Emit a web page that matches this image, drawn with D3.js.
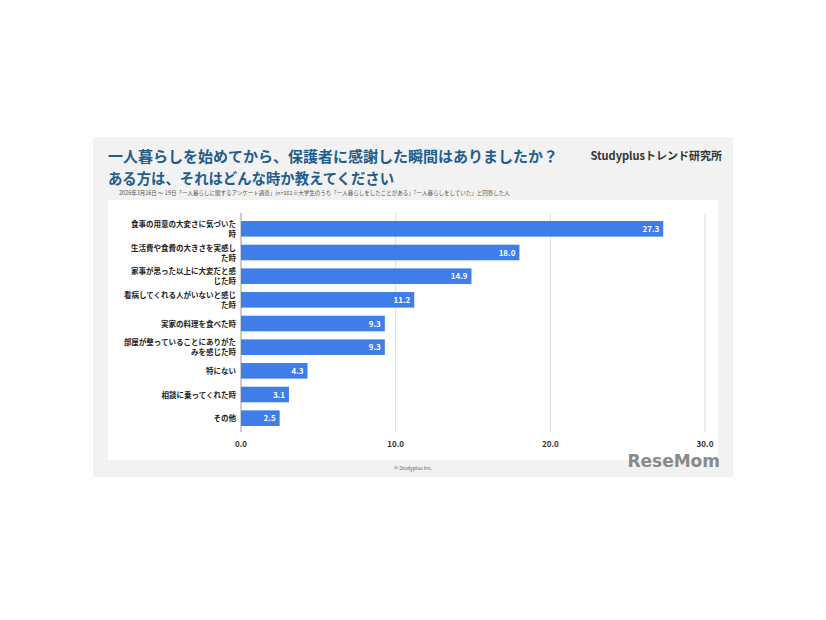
<!DOCTYPE html><html><head><meta charset="utf-8"><script src="https://d3js.org/d3.v7.min.js"></script>
<style>body{margin:0;background:#fff}</style></head><body><script>
const categories=["食事の用意の大変さに気づいた時","生活費や食費の大きさを実感した時","家事が思った以上に大変だと感じた時","看病してくれる人がいないと感じた時","実家の料理を食べた時","部屋が整っていることにありがたみを感じた時","特にない","相談に乗ってくれた時","その他"];
const labelLines=[["食事の用意の大変さに気づいた","時"],["生活費や食費の大きさを実感し","た時"],["家事が思った以上に大変だと感","じた時"],["看病してくれる人がいないと感じ","た時"],["実家の料理を食べた時"],["部屋が整っていることにありがた","みを感じた時"],["特にない"],["相談に乗ってくれた時"],["その他"]];
const values=[27.3,18.0,14.9,11.2,9.3,9.3,4.3,3.1,2.5];
const ticks=[0,10,20,30];
const F="'Noto Sans CJK JP',sans-serif";
const svg=d3.select("body").append("svg").attr("width",826).attr("height",620);
svg.append("rect").attr("x",93).attr("y",137).attr("width",640).attr("height",340).attr("fill","#f2f2f2");
svg.append("rect").attr("x",108).attr("y",200).attr("width",610).attr("height",260).attr("fill","#fff");
svg.append("text").attr("x",108).attr("y",162).attr("font-family",F).attr("font-weight",700).attr("font-size",15).attr("textLength",450).attr("lengthAdjust","spacingAndGlyphs").attr("fill","#1f5d8c").text("一人暮らしを始めてから、保護者に感謝した瞬間はありましたか？");
svg.append("text").attr("x",108).attr("y",184).attr("font-family",F).attr("font-weight",700).attr("font-size",15).attr("textLength",286).attr("lengthAdjust","spacingAndGlyphs").attr("fill","#1f5d8c").text("ある方は、それはどんな時か教えてください");
svg.append("text").attr("x",722).attr("y",160).attr("text-anchor","end").attr("font-family",F).attr("font-weight",700).attr("font-size",11).attr("fill","#333").text("Studyplusトレンド研究所");
svg.append("text").attr("x",119).attr("y",195).attr("font-family",F).attr("font-size",5.5).attr("fill","#555").text("2026年3月16日 ～ 19日「一人暮らしに関するアンケート調査」(n=161※大学生のうち「一人暮らしをしたことがある」「一人暮らしをしていた」と回答した人");
svg.append("text").attr("x",413).attr("y",470).attr("text-anchor","middle").attr("font-family",F).attr("font-size",5).attr("fill","#666").text("© Studyplus Inc.");
const x=d3.scaleLinear().domain([0,30]).range([241,705]);
const y=d3.scaleBand().domain(categories).range([217,430]).paddingInner(0.34).paddingOuter(0.17);
svg.append("g").selectAll("line").data(ticks).join("line").attr("x1",d=>x(d)).attr("x2",d=>x(d)).attr("y1",213).attr("y2",432).attr("stroke",d=>d===0?"#999":"#ddd").attr("stroke-width",1);
svg.append("g").selectAll("text").data(ticks).join("text").attr("x",d=>x(d)).attr("y",447).attr("text-anchor","middle").attr("font-family",F).attr("font-weight",700).attr("font-size",8).attr("fill","#333").text(d=>d.toFixed(1));
const g=svg.append("g");
g.selectAll("rect").data(values).join("rect").attr("x",x(0)).attr("y",(d,i)=>y(categories[i])).attr("width",d=>x(d)-x(0)).attr("height",y.bandwidth()).attr("fill","#3f7ee8");
g.selectAll("text.v").data(values).join("text").attr("class","v").attr("x",d=>x(d)-4).attr("y",(d,i)=>y(categories[i])+y.bandwidth()/2+3).attr("text-anchor","end").attr("font-family",F).attr("font-weight",700).attr("font-size",8).attr("fill","#fff").text(d=>d.toFixed(1));
labelLines.forEach((ls,i)=>{const cy=y(categories[i])+y.bandwidth()/2;const t=g.append("text").attr("text-anchor","end").attr("font-family",F).attr("font-weight",700).attr("font-size",7.5).attr("fill","#222");
ls.forEach((l,j)=>t.append("tspan").attr("x",236).attr("y",cy+3+(j-(ls.length-1)/2)*10).text(l));});
svg.append("text").attr("x",720).attr("y",467).attr("text-anchor","end").attr("font-family","'DejaVu Sans',sans-serif").attr("font-weight",700).attr("font-size",17).attr("fill","#8a8a8a").text("ReseMom");
</script></body></html>
